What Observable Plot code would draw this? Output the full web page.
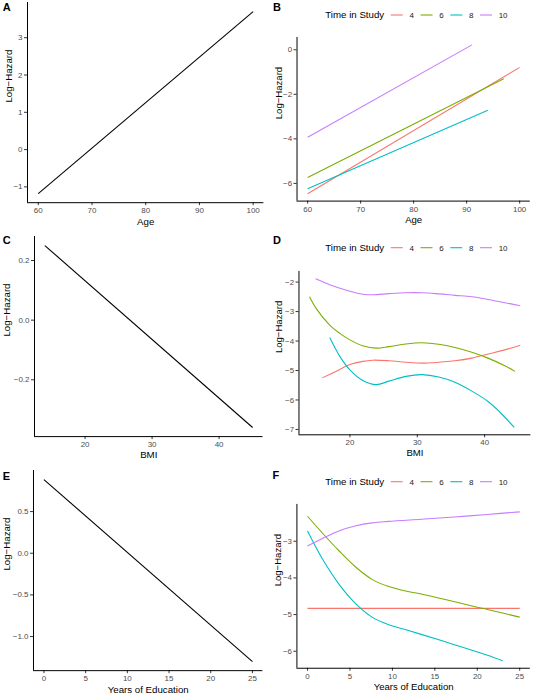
<!DOCTYPE html>
<html>
<head>
<meta charset="utf-8">
<script src="https://cdn.jsdelivr.net/npm/d3@7"></script>
<script src="https://cdn.jsdelivr.net/npm/@observablehq/plot@0.6"></script>
<style>
  body { margin: 0; background: #fff; }
  #root { position: relative; width: 536px; height: 694px; overflow: hidden; background: #fff;
          font-family: "Liberation Sans", Arial, Helvetica, sans-serif; }
  .panel { position: absolute; }
  #overlay { position: absolute; left: 0; top: 0; pointer-events: none; }
</style>
</head>
<body>
<div id="root"></div>
<script>
// ---------------- data ----------------
const timeLevels = [4, 6, 8, 10];
const timeColors = ["#F8766D", "#7CAE00", "#00BFC4", "#C77CFF"];
const yTitle = "Log\u2212Hazard";

// Panel A: Age, overall
const ageA = [60, 100];
const hazardA = [-1.18, 3.7];

// Panel B: Age by time in study
const ageB4 = [60, 100],  hazardB4 = [-6.46, -0.79];
const ageB6 = [60, 97],   hazardB6 = [-5.73, -1.30];
const ageB8 = [60, 94],   hazardB8 = [-6.24, -2.71];
const ageB10 = [60, 91],  hazardB10 = [-3.93, 0.22];

// Panel C: BMI, overall
const bmiC = [14, 45];
const hazardC = [0.25, -0.36];

// Panel D: BMI by time in study
const bmiD4 = [15.9, 17.5, 20, 21.9, 23.4, 25.8, 28.3, 30.7, 33.2, 35.6, 38.1, 40.5, 43, 45.3];
const hazardD4 = [-5.25, -5.08, -4.80, -4.69, -4.65, -4.67, -4.72, -4.75, -4.72, -4.67, -4.58, -4.44, -4.30, -4.14];
const bmiD6 = [14, 15, 17, 18.5, 20, 21.9, 23.9, 25.8, 28.3, 30.7, 33.2, 35.6, 38.1, 40.5, 43, 44.5];
const hazardD6 = [-2.50, -2.90, -3.46, -3.74, -3.96, -4.16, -4.24, -4.19, -4.10, -4.06, -4.11, -4.22, -4.38, -4.58, -4.84, -5.03];
const bmiD8 = [17, 18.5, 20, 21.9, 23.9, 25.8, 28.3, 30.7, 33.2, 35.6, 38.1, 40.5, 42.2, 44.4];
const hazardD8 = [-3.88, -4.52, -4.98, -5.34, -5.48, -5.36, -5.20, -5.14, -5.22, -5.40, -5.70, -6.05, -6.40, -6.93];
const bmiD10 = [14.9, 17, 20, 21.9, 23.4, 25.8, 28.3, 30.7, 33.2, 35.6, 38.1, 40.5, 43, 45.3];
const hazardD10 = [-1.89, -2.09, -2.31, -2.41, -2.43, -2.39, -2.36, -2.36, -2.40, -2.45, -2.50, -2.59, -2.70, -2.80];

// Panel E: Years of education, overall
const eduE = [0, 25];
const hazardE = [0.884, -1.30];

// Panel F: Years of education by time in study
const eduF4 = [0, 25];
const hazardF4 = [-4.83, -4.83];
const eduF6 = [0, 1.8, 3.7, 5.7, 7.6, 9.5, 11.4, 13.4, 17.3, 20, 21.2, 25];
const hazardF6 = [-2.32, -2.79, -3.26, -3.71, -4.04, -4.23, -4.35, -4.44, -4.65, -4.80, -4.86, -5.07];
const eduF8 = [0, 1.8, 3.7, 5.7, 7.6, 9.5, 11.4, 13.4, 17.3, 21.2, 23];
const hazardF8 = [-2.72, -3.50, -4.17, -4.71, -5.07, -5.27, -5.40, -5.54, -5.82, -6.11, -6.26];
const eduF10 = [0, 1.8, 3.7, 5.7, 7.6, 9.5, 13.4, 17.3, 21.2, 25];
const hazardF10 = [-3.13, -2.92, -2.72, -2.58, -2.50, -2.46, -2.40, -2.34, -2.27, -2.20];

// tick values
const ageTicks = [60, 70, 80, 90, 100];
const bmiTicks = [20, 30, 40];
const eduTicks = [0, 5, 10, 15, 20, 25];
const yTicksA = [-1, 0, 1, 2, 3];
const yTicksB = [-6, -4, -2, 0];
const yTicksC = [-0.2, 0.0, 0.2];
const yTicksD = [-7, -6, -5, -4, -3, -2];
const yTicksE = [-1.0, -0.5, 0.0, 0.5];
const yTicksF = [-6, -5, -4, -3];

// ---------------- helpers ----------------
const rows = (xs, ys, time) => xs.map((x, i) => ({x, y: ys[i], time}));
function expand(vals) {
  const lo = d3.min(vals), hi = d3.max(vals), p = (hi - lo) * 0.05;
  return [lo - p, hi + p];
}
const FONT = '"Liberation Sans", Arial, Helvetica, sans-serif';
const root = document.getElementById("root");

function panel({frame, data, xTicks, yTicks, yFormat, xLabel, yDx, curve, colored}) {
  const mL = 45, mR = 6, mT = 6, mB = 34;
  const W = frame.x1 - frame.x0 + mL + mR;
  const H = frame.y1 - frame.y0 + mT + mB;
  const xDom = expand(data.map(d => d.x));
  const yDom = expand(data.map(d => d.y));
  const chart = Plot.plot({
    width: W, height: H,
    marginLeft: mL, marginRight: mR, marginTop: mT, marginBottom: mB,
    style: {fontFamily: FONT, background: "transparent", overflow: "visible"},
    x: {domain: xDom},
    y: {domain: yDom},
    color: {type: "ordinal", domain: timeLevels, range: timeColors},
    marks: [
      Plot.axisX({ticks: xTicks, tickSize: 3, tickPadding: 2, fontSize: 8,
                  stroke: "#333", fill: "#4d4d4d", label: null, tickFormat: d3.format("d")}),
      Plot.axisY({ticks: yTicks, tickSize: 3, tickPadding: 2, fontSize: 8,
                  stroke: "#333", fill: "#4d4d4d", label: null, tickFormat: yFormat}),
      Plot.ruleX([xDom[0]], {stroke: "#000", strokeWidth: 1}),
      Plot.ruleY([yDom[0]], {stroke: "#000", strokeWidth: 1}),
      Plot.line(data, {x: "x", y: "y", z: "time",
                       stroke: colored ? "time" : "#000",
                       strokeWidth: 1.1, curve, strokeLinecap: "butt"}),
      Plot.text([xLabel], {text: d => d, frameAnchor: "bottom", lineAnchor: "top",
                           dy: 15, fontSize: 9.7, fill: "#000"}),
      Plot.text([yTitle], {text: d => d, frameAnchor: "left", rotate: -90,
                           dx: yDx, fontSize: 9.7, fill: "#000"})
    ]
  });
  const div = document.createElement("div");
  div.className = "panel";
  div.style.left = (frame.x0 - mL) + "px";
  div.style.top = (frame.y0 - mT) + "px";
  div.appendChild(chart);
  root.appendChild(div);
}

const fmtInt = d3.format("d");
const fmt1 = d3.format(".1f");

panel({frame: {x0: 26.6, x1: 263, y0: 2.2, y1: 202.4},
       data: rows(ageA, hazardA, 0),
       xTicks: ageTicks, yTicks: yTicksA, yFormat: fmtInt, xLabel: "Age",
       yDx: -18.6, curve: "linear", colored: false});

panel({frame: {x0: 297.3, x1: 533, y0: 36.5, y1: 201.9},
       data: [...rows(ageB4, hazardB4, 4), ...rows(ageB6, hazardB6, 6),
              ...rows(ageB8, hazardB8, 8), ...rows(ageB10, hazardB10, 10)],
       xTicks: ageTicks, yTicks: yTicksB, yFormat: fmtInt, xLabel: "Age",
       yDx: -18.8, curve: "linear", colored: true});

panel({frame: {x0: 33.7, x1: 262.2, y0: 235.9, y1: 436},
       data: rows(bmiC, hazardC, 0),
       xTicks: bmiTicks, yTicks: yTicksC, yFormat: fmt1, xLabel: "BMI",
       yDx: -27.4, curve: "linear", colored: false});

panel({frame: {x0: 298.7, x1: 533.3, y0: 271, y1: 436.3},
       data: [...rows(bmiD4, hazardD4, 4), ...rows(bmiD6, hazardD6, 6),
              ...rows(bmiD8, hazardD8, 8), ...rows(bmiD10, hazardD10, 10)],
       xTicks: bmiTicks, yTicks: yTicksD, yFormat: fmtInt, xLabel: "BMI",
       yDx: -20.2, curve: "catmull-rom", colored: true});

panel({frame: {x0: 33.3, x1: 262.7, y0: 470.25, y1: 670.4},
       data: rows(eduE, hazardE, 0),
       xTicks: eduTicks, yTicks: yTicksE, yFormat: fmt1, xLabel: "Years of Education",
       yDx: -27, curve: "linear", colored: false});

panel({frame: {x0: 297.25, x1: 533.75, y0: 504.2, y1: 670.2},
       data: [...rows(eduF4, hazardF4, 4), ...rows(eduF6, hazardF6, 6),
              ...rows(eduF8, hazardF8, 8), ...rows(eduF10, hazardF10, 10)],
       xTicks: eduTicks, yTicks: yTicksF, yFormat: fmtInt, xLabel: "Years of Education",
       yDx: -18.75, curve: "catmull-rom", colored: true});

// ---------------- overlay: panel letters and legends ----------------
const svg = d3.select(root).append("svg").attr("id", "overlay")
  .attr("width", 536).attr("height", 694)
  .style("font-family", FONT);

const letters = [
  {t: "A", x: 2.7, y: 11}, {t: "B", x: 273, y: 11},
  {t: "C", x: 2.7, y: 244}, {t: "D", x: 273, y: 244},
  {t: "E", x: 2.7, y: 480}, {t: "F", x: 272.5, y: 479}
];
letters.forEach(l => svg.append("text").attr("x", l.x).attr("y", l.y)
  .attr("font-size", 11).attr("font-weight", "bold").attr("fill", "#000").text(l.t));

function legend(x0, cy) {
  const g = svg.append("g");
  const t = g.append("text").attr("x", x0).attr("y", cy + 3.4)
    .attr("font-size", 9.7).attr("fill", "#000").text("Time in Study");
  let x = x0 + t.node().getComputedTextLength() + 6.6;
  timeLevels.forEach((lv, i) => {
    g.append("line").attr("x1", x).attr("x2", x + 12).attr("y1", cy).attr("y2", cy)
      .attr("stroke", timeColors[i]).attr("stroke-width", 1.1);
    x += 12 + 6.6;
    const lt = g.append("text").attr("x", x).attr("y", cy + 2.9)
      .attr("font-size", 8).attr("fill", "#1a1a1a").text(lv);
    x += lt.node().getComputedTextLength() + 6.7;
  });
}
legend(325.3, 15);
legend(325.3, 247.7);
legend(325.3, 481.7);
</script>
</body>
</html>
